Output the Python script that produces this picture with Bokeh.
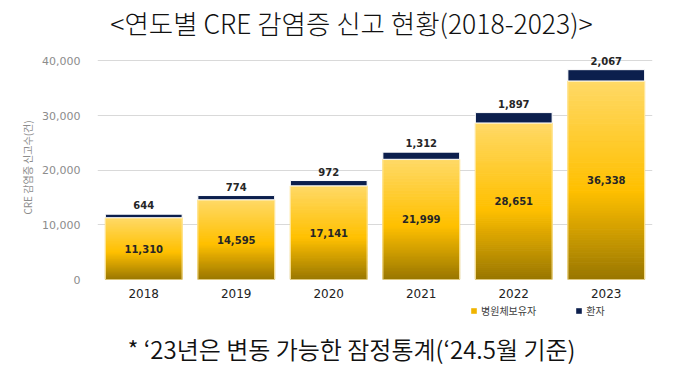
from bokeh.plotting import figure
from bokeh.layouts import column
from bokeh.models import FactorRange, Range1d, Label, Legend, LegendItem, FixedTicker
from bokeh.embed import file_html
from bokeh.resources import INLINE
from bokeh.core.properties import value

# ---- data ----
years = ["2018", "2019", "2020", "2021", "2022", "2023"]
carriers = [11310, 14595, 17141, 21999, 28651, 36338]   # 병원체보유자
patients = [644, 774, 972, 1312, 1897, 2067]            # 환자
y_ticks = [0, 10000, 20000, 30000, 40000]
title_text = "<연도별 CRE 감염증 신고 현황(2018-2023)>"
note_text = "* \u201823년은 변동 가능한 잠정통계(\u201824.5월 기준)"
y_label = "CRE 감염증 신고수(건)"
legend_labels = ["병원체보유자", "환자"]

# ---- styling ----
W = 680
H_TOP, H_MAIN, H_BOT = 45, 255, 67
FRAME_LEFT = 97
NAVY = "#0c1f4d"
GOLD = "#f0b400"
KFONT = "Noto Sans CJK KR"
KFONT_LIGHT = "'Noto Sans CJK KR Light', 'Noto Sans CJK KR'"
KFONT_DEMI = "'Noto Sans CJK KR DemiLight', 'Noto Sans CJK KR'"
NFONT = "DejaVu Sans"


def blank(h):
    f = figure(width=W, height=h, x_axis_type=None, y_axis_type=None, output_backend="svg",
               toolbar_location=None, min_border=0, x_range=Range1d(0, 1), y_range=Range1d(0, 1))
    f.outline_line_color = None
    f.xgrid.grid_line_color = None
    f.ygrid.grid_line_color = None
    return f


# ---- title strip (its frame is aligned with the main frame, which starts at x=97) ----
pt = blank(H_TOP)
pt.add_layout(Label(x=351 - FRAME_LEFT, y=H_TOP - 22, x_units="screen", y_units="screen", text=title_text,
                    text_align="center", text_baseline="middle", text_font=KFONT_LIGHT,
                    text_font_size="26.5px", text_color="#111111"))

# ---- main chart ----
p = figure(x_range=FactorRange(*years, range_padding=0), y_range=Range1d(0, 41000),
           width=W, height=H_MAIN, output_backend="svg", toolbar_location=None,
           min_border_left=FRAME_LEFT, min_border_right=28, min_border_top=10, min_border_bottom=21)
p.outline_line_color = None
p.xgrid.grid_line_color = None
p.ygrid.grid_line_color = "#d9d9d9"
p.ygrid.ticker = FixedTicker(ticks=y_ticks)

N = 80
def grad(f):
    stops = [(0.0, (152, 118, 0)), (0.45, (255, 192, 0)), (1.0, (255, 217, 102))]
    for (f0, c0), (f1, c1) in zip(stops[:-1], stops[1:]):
        if f <= f1:
            t = (f - f0) / (f1 - f0)
            return "#%02x%02x%02x" % tuple(int(round(a + (b - a) * t)) for a, b in zip(c0, c1))
    return "#%02x%02x%02x" % stops[-1][1]

bx, bb, bt, bc = [], [], [], []
for yr, v in zip(years, carriers):
    for k in range(N):
        bx.append(yr)
        bb.append(v * k / N)
        bt.append(v * (k + 1) / N)
        bc.append(grad((k + 0.5) / N))
p.vbar(x=bx, bottom=bb, top=bt, width=0.83, fill_color=bc, line_color=bc, line_width=1)
p.vbar(x=years, bottom=0, top=carriers, width=0.83, fill_color=None, line_color="#ffe8a0", line_width=1)

totals = [c + q for c, q in zip(carriers, patients)]
p.vbar(x=years, bottom=carriers, top=totals, width=0.83, fill_color=NAVY, line_color="white", line_width=1)

mids = [c / 2 for c in carriers]
p.text(x=years, y=mids, text=[f"{c:,}" for c in carriers], text_align="center", text_baseline="middle",
       text_font=value(NFONT), text_font_size="10px", text_font_style="bold", text_color="#262626")
p.text(x=years, y=totals, text=[f"{q:,}" for q in patients], text_align="center", text_baseline="bottom",
       y_offset=-5, text_font=value(NFONT), text_font_size="10px", text_font_style="bold", text_color="#262626")

p.yaxis.ticker = FixedTicker(ticks=y_ticks)
p.yaxis.major_label_overrides = {t: f"{t:,}" for t in y_ticks}
p.yaxis.axis_line_color = None
p.yaxis.major_tick_line_color = None
p.yaxis.minor_tick_line_color = None
p.yaxis.major_label_text_font = NFONT
p.yaxis.major_label_text_font_size = "11px"
p.yaxis.major_label_text_color = "#8c8c8c"
p.yaxis.major_label_standoff = 11
p.yaxis.axis_label = y_label
p.yaxis.axis_label_text_font = KFONT
p.yaxis.axis_label_text_font_size = "10px"
p.yaxis.axis_label_text_font_style = "normal"
p.yaxis.axis_label_text_color = "#8c8c8c"
p.yaxis.axis_label_standoff = 4

p.xaxis.axis_line_color = None
p.xaxis.major_tick_line_color = None
p.xaxis.major_label_text_font = NFONT
p.xaxis.major_label_text_font_size = "12px"
p.xaxis.major_label_text_color = "#222222"
p.xaxis.major_label_standoff = 3

# ---- legend + footnote strip ----
pb = blank(H_BOT)
r1 = pb.vbar(x=[0.5], bottom=[0], top=[0], width=0.1, fill_color=GOLD, line_color=GOLD, line_width=0)
r2 = pb.vbar(x=[0.5], bottom=[0], top=[0], width=0.1, fill_color=NAVY, line_color=NAVY, line_width=0)
legend = Legend(items=[LegendItem(label=legend_labels[0], renderers=[r1]),
                       LegendItem(label=legend_labels[1], renderers=[r2])],
                location=(470 - FRAME_LEFT, 49), orientation="horizontal", padding=0, margin=0, spacing=39,
                glyph_width=7, glyph_height=7, label_standoff=4, label_height=12,
                label_text_font=KFONT, label_text_font_size="10px", label_text_color="#404040",
                border_line_color=None, background_fill_alpha=0)
pb.add_layout(legend)
pb.add_layout(Label(x=351 - FRAME_LEFT, y=19, x_units="screen", y_units="screen", text=note_text,
                    text_align="center", text_baseline="middle", text_font=KFONT_DEMI,
                    text_font_size="24px", text_color="#111111"))

layout = column(pt, p, pb, spacing=0)
open("out.html", "w").write(file_html(layout, INLINE))
